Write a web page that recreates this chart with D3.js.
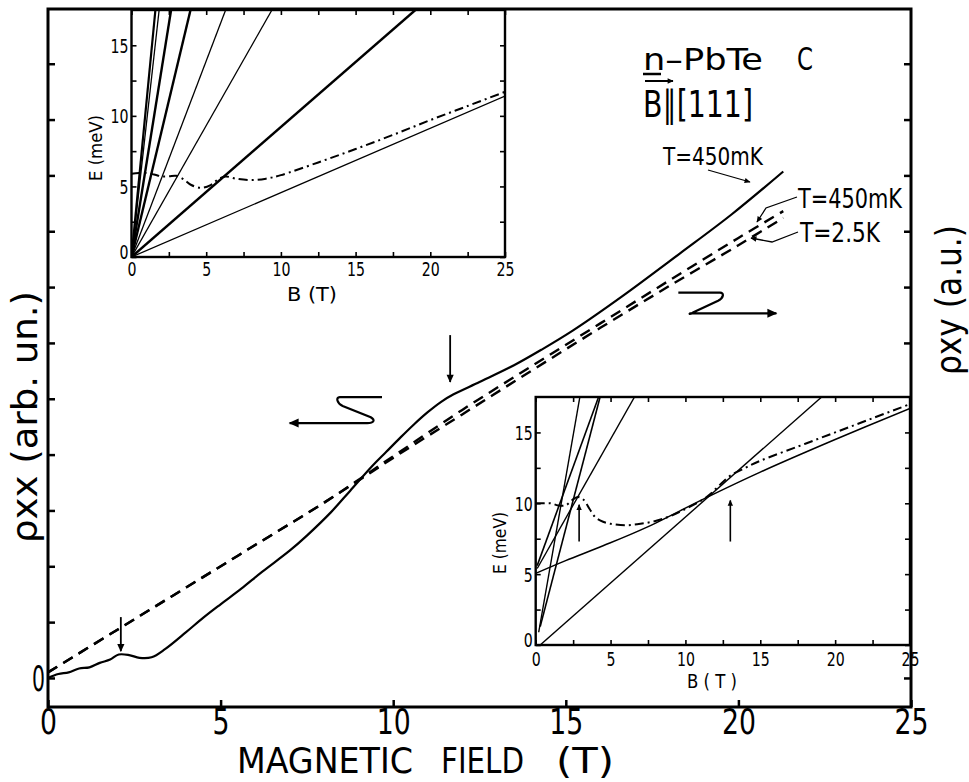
<!DOCTYPE html>
<html><head><meta charset="utf-8">
<script src="https://cdn.jsdelivr.net/npm/d3@7"></script>
<style>body{margin:0;background:#fff}svg{display:block}</style>
</head><body>
<script>
// ================= DATA =================
// Main panel: rho_xx (solid, T=450 mK)
const mainBxx   = [0,0.3,0.6,0.9,1.2,1.5,1.8,2.05,2.35,2.65,3.0,3.4,4.0,4.5,5.0,5.6,6.2,7.0,7.5,8.2,8.75,9.4,9.8,10.2,10.6,11.0,11.4,11.75,12.5,13.5,14.3,15.2,16.6,18.3,19.8,21.3];
const rhoXX450  = [0,0.07,0.1,0.17,0.19,0.27,0.33,0.42,0.41,0.36,0.37,0.52,0.82,1.08,1.32,1.6,1.9,2.28,2.55,2.97,3.35,3.8,4.05,4.3,4.54,4.76,4.95,5.08,5.3,5.6,5.88,6.22,6.82,7.6,8.3,9.07];
// Main panel: rho_xy (dashed) at 450 mK and 2.5 K
const mainBxy   = [0,2,4,6,8,10,12,14,16,18,20,21.3];
const rhoXY450  = [0.1,0.86,1.62,2.38,3.14,3.97,4.8,5.58,6.35,7.12,7.88,8.36];
const rhoXY25K  = [0.1,0.86,1.62,2.38,3.14,3.94,4.72,5.5,6.27,7.02,7.75,8.24];
const mainXTicks = [0,5,10,15,20,25];
const mainYTicks = [0,1,2,3,4,5,6,7,8,9,10,11];
// annotation arrows (data units of main panel)
const downArrowsB   = [2.11, 11.65];
const downArrowsTop = [1.09, 6.14];
const downArrowsTip = [0.48, 5.30];

// Inset 1 (top left): Landau levels E(B), lines [B0,E0,B1,E1]
const in1Lines = [[0,0,25,11.4],[0,0,19.0,17.5],[0,0,9.4,17.5],[0,0,6.3,17.5],[0,0,3.95,17.5],[0,0,2.65,17.5],[0,0,1.85,17.5],[0,0,1.6,17.5]];
const in1FermiB = [0,0.5,1,1.5,2,2.5,3,3.5,4,4.7,5.3,5.8,6.3,7,8,9,10,12.5,15,17.5,20,22.5,25];
const in1FermiE = [5.9,5.95,5.95,5.85,5.72,5.72,5.75,5.5,5.1,4.9,5.1,5.5,5.7,5.55,5.45,5.55,5.8,6.7,7.65,8.65,9.7,10.7,11.7];

// Inset 2 (bottom right)
const in2Lines = [[0.3,0,19.1,17.5],[0.2,0.9,2.95,17.5],[0.3,1.3,4.3,17.5],[0.1,5.6,4.2,17.5],[0.1,5.4,6.6,17.5]];
const in2LowB = [0,2,4.5,7.4,11.3,15,20,25];
const in2LowE = [5.05,5.95,7.0,8.3,10.35,12.2,14.5,16.7];
const in2FermiB = [0,0.5,1,1.5,2,2.4,2.8,3.2,3.6,4,4.5,5,6,7,8,9,10,11,11.6,12.3,13,14,15,17.5,20,22.5,25];
const in2FermiE = [10,10,10,9.85,9.85,10.2,10.45,10.25,9.6,9.0,8.7,8.55,8.45,8.55,8.75,9.1,9.6,10.15,10.6,11.3,11.95,12.5,13.0,14.0,15.0,16.0,17.0];
const in2ArrowB = [2.9, 13.0];
const in2ArrowFrom = [7.3, 7.3];
const in2ArrowTo = [9.9, 10.2];
const insetTicks = [0,5,10,15,20,25];
const insetYTicks = [0,5,10,15];

// ================= DRAW =================
const FONT = "'Liberation Sans Narrow','DejaVu Sans Condensed','Liberation Sans',sans-serif";
const W = 969, H = 782;
const svg = d3.select("body").append("svg").attr("width", W).attr("height", H);
svg.append("rect").attr("width", W).attr("height", H).attr("fill", "#fff");
const defs = svg.append("defs");
function marker(id, w, h) {
  defs.append("marker").attr("id", id).attr("viewBox", "0 0 10 10")
    .attr("refX", 9).attr("refY", 5).attr("markerUnits", "userSpaceOnUse")
    .attr("markerWidth", w).attr("markerHeight", h).attr("orient", "auto")
    .append("path").attr("d", "M0,0.5 L10,5 L0,9.5 Z").attr("fill", "#000");
}
marker("big", 20, 10);
marker("mid", 11, 8);
marker("small", 10, 6);

const x = d3.scaleLinear().domain([0, 25]).range([48, 911]);
const y = d3.scaleLinear().domain([-0.52, 11.98]).range([707, 9]);

function txt(g, s, px, py, size, len, anchor) {
  const t = g.append("text").attr("x", px).attr("y", py).text(s)
    .attr("font-family", FONT).attr("font-size", size).attr("fill", "#000")
    .attr("text-anchor", anchor || "start");
  if (len) t.attr("textLength", len).attr("lengthAdjust", "spacingAndGlyphs");
  return t;
}

// main axes
const gx = svg.append("g").attr("transform", `translate(0,${y.range()[0]})`)
  .call(d3.axisBottom(x).tickValues(mainXTicks).tickSize(-7).tickFormat(d => d));
gx.select(".domain").remove();
gx.selectAll("line").attr("stroke", "#000").attr("stroke-width", 2.5);
gx.selectAll("text").attr("dy", null).attr("y", 27).attr("font-family", FONT)
  .attr("font-size", 35).attr("fill", "#000")
  .each(function (d) { d3.select(this).attr("textLength", String(d).length * 17).attr("lengthAdjust", "spacingAndGlyphs"); });

const gyl = svg.append("g").attr("transform", `translate(${x.range()[0]},0)`)
  .call(d3.axisLeft(y).tickValues(mainYTicks).tickSize(-7).tickFormat(d => d === 0 ? "0" : ""));
gyl.select(".domain").remove();
gyl.selectAll("line").attr("stroke", "#000").attr("stroke-width", 2.5);
gyl.selectAll("text").attr("dy", null).attr("x", -3).attr("y", 13)
  .attr("font-family", FONT).attr("font-size", 36).attr("fill", "#000")
  .attr("textLength", 13).attr("lengthAdjust", "spacingAndGlyphs");

const gyr = svg.append("g").attr("transform", `translate(${x.range()[1]},0)`)
  .call(d3.axisRight(y).tickValues(mainYTicks).tickSize(-7).tickFormat(""));
gyr.select(".domain").remove();
gyr.selectAll("line").attr("stroke", "#000").attr("stroke-width", 2.5);

// curves
const lineGen = d3.line().x(d => x(d[0])).y(d => y(d[1])).curve(d3.curveCatmullRom.alpha(0.5));
svg.append("path").datum(mainBxy.map((b, i) => [b, rhoXY25K[i]])).attr("d", lineGen)
  .attr("fill", "none").attr("stroke", "#000").attr("stroke-width", 2.4).attr("stroke-dasharray", "11,7");
svg.append("path").datum(mainBxy.map((b, i) => [b, rhoXY450[i]])).attr("d", lineGen)
  .attr("fill", "none").attr("stroke", "#000").attr("stroke-width", 2.4).attr("stroke-dasharray", "11,7");
svg.append("path").datum(mainBxx.map((b, i) => [b, rhoXX450[i]])).attr("d", lineGen)
  .attr("fill", "none").attr("stroke", "#000").attr("stroke-width", 2.2);

// down arrows
downArrowsB.forEach((b, i) => {
  svg.append("line").attr("x1", x(b)).attr("x2", x(b)).attr("y1", y(downArrowsTop[i])).attr("y2", y(downArrowsTip[i]))
    .attr("stroke", "#000").attr("stroke-width", 1.8).attr("marker-end", "url(#mid)");
});

// S-shaped arrows (data units)
const sLeft = [[9.675, 5.03], [8.45, 5.03], [9.35, 4.67], [9.25, 4.565], [7.0, 4.565]];
const sRight = [[18.26, 6.90], [19.47, 6.90], [18.7, 6.55], [18.6, 6.53], [21.1, 6.53]];
function sPath(p) {
  const P = p.map(d => [x(d[0]), y(d[1])]);
  return `M${P[0][0]},${P[0][1]} L${P[1][0]},${P[1][1]} C${P[1][0] - 4},${P[1][1]} ${P[1][0] - 3},${P[1][1] + 6} ${P[1][0] + 3},${P[1][1] + 9}` +
    ` L${P[2][0]},${P[2][1]} C${P[2][0] + 5},${P[2][1] + 3} ${P[2][0] + 3},${P[3][1]} ${P[3][0]},${P[3][1]} L${P[4][0]},${P[4][1]}`;
}
function sPathR(p) {
  const P = p.map(d => [x(d[0]), y(d[1])]);
  return `M${P[0][0]},${P[0][1]} L${P[1][0]},${P[1][1]} C${P[1][0] + 4},${P[1][1]} ${P[1][0] + 4},${P[1][1] + 5} ${P[1][0] - 2},${P[1][1] + 8}` +
    ` L${P[2][0]},${P[2][1]} C${P[2][0] - 5},${P[2][1] + 3} ${P[2][0] - 4},${P[3][1]} ${P[3][0]},${P[3][1]} L${P[4][0]},${P[4][1]}`;
}
svg.append("path").attr("d", sPath(sLeft)).attr("fill", "none").attr("stroke", "#000").attr("stroke-width", 2.2).attr("marker-end", "url(#big)");
svg.append("path").attr("d", sPathR(sRight)).attr("fill", "none").attr("stroke", "#000").attr("stroke-width", 2.2).attr("marker-end", "url(#big)");

// ================= INSETS =================
function inset(cfg) {
  const g = svg.append("g");
  const xs = d3.scaleLinear().domain([0, 25]).range([cfg.x0, cfg.x1]);
  const ys = d3.scaleLinear().domain([0, 17.5]).range([cfg.y0, cfg.y1]);
  g.append("rect").attr("x", cfg.x0).attr("y", cfg.y1).attr("width", cfg.x1 - cfg.x0).attr("height", cfg.y0 - cfg.y1).attr("fill", "#fff");
  const cid = "clip" + cfg.id;
  defs.append("clipPath").attr("id", cid).append("rect").attr("x", cfg.x0).attr("y", cfg.y1).attr("width", cfg.x1 - cfg.x0).attr("height", cfg.y0 - cfg.y1);
  const pg = g.append("g").attr("clip-path", `url(#${cid})`);
  cfg.lines.forEach((l, i) => {
    pg.append("line").attr("x1", xs(l[0])).attr("y1", ys(l[1])).attr("x2", xs(l[2])).attr("y2", ys(l[3]))
      .attr("stroke", "#000").attr("stroke-width", cfg.weights[i]);
  });
  const lg = d3.line().x(d => xs(d[0])).y(d => ys(d[1])).curve(d3.curveCatmullRom.alpha(0.5));
  if (cfg.low) pg.append("path").datum(cfg.low).attr("d", lg).attr("fill", "none").attr("stroke", "#000").attr("stroke-width", 1.5);
  pg.append("path").datum(cfg.fermi).attr("d", lg).attr("fill", "none").attr("stroke", "#000")
    .attr("stroke-width", 2).attr("stroke-dasharray", "9,4,2,4");
  const tl = 5;
  const b = g.append("g").attr("transform", `translate(0,${cfg.y0})`).call(d3.axisBottom(xs).tickValues(d3.range(0, 25.01, 2.5)).tickSize(-tl).tickFormat(d => insetTicks.includes(d) ? d : ""));
  const t = g.append("g").attr("transform", `translate(0,${cfg.y1})`).call(d3.axisTop(xs).tickValues(d3.range(0, 25.01, 2.5)).tickSize(-tl).tickFormat(""));
  const l = g.append("g").attr("transform", `translate(${cfg.x0},0)`).call(d3.axisLeft(ys).tickValues(d3.range(0, 17.5, 2.5)).tickSize(-tl).tickFormat(d => insetYTicks.includes(d) ? d : ""));
  const r = g.append("g").attr("transform", `translate(${cfg.x1},0)`).call(d3.axisRight(ys).tickValues(d3.range(0, 17.5, 2.5)).tickSize(-tl).tickFormat(""));
  [b, t, l, r].forEach(a => { a.select(".domain").remove(); a.selectAll("line").attr("stroke", "#000").attr("stroke-width", 1.6); });
  b.selectAll("text").attr("dy", null).attr("y", cfg.xlabY).attr("font-family", FONT).attr("font-size", 19).attr("fill", "#000")
    .each(function (d) { d3.select(this).attr("textLength", String(d).length * 9).attr("lengthAdjust", "spacingAndGlyphs"); });
  l.selectAll("text").attr("dy", null).attr("x", -3).attr("y", d => d === 0 ? 1 : 7).attr("font-family", FONT).attr("font-size", 19).attr("fill", "#000")
    .each(function (d) { d3.select(this).attr("textLength", String(d).length * 9).attr("lengthAdjust", "spacingAndGlyphs"); });
  g.append("rect").attr("x", cfg.x0).attr("y", cfg.y1).attr("width", cfg.x1 - cfg.x0).attr("height", cfg.y0 - cfg.y1)
    .attr("fill", "none").attr("stroke", "#000").attr("stroke-width", 2.4);
  return { g, xs, ys };
}

const in1 = inset({ id: 1, x0: 131.5, x1: 505, y0: 257, y1: 10, xlabY: 19,
  lines: in1Lines, weights: [1.3, 2.4, 1.3, 1.3, 2.4, 2.4, 1.3, 2.2],
  fermi: in1FermiB.map((b, i) => [b, in1FermiE[i]]) });
txt(in1.g, "E (meV)", 0, 0, 17, 66, "middle").attr("transform", "translate(102,148) rotate(-90)");
txt(in1.g, "B (T)", 312, 301, 20, 50, "middle");

const in2 = inset({ id: 2, x0: 535.7, x1: 910, y0: 645, y1: 397, xlabY: 21,
  lines: in2Lines, weights: [1.4, 1.4, 1.6, 1.6, 1.4],
  low: in2LowB.map((b, i) => [b, in2LowE[i]]),
  fermi: in2FermiB.map((b, i) => [b, in2FermiE[i]]) });
txt(in2.g, "E (meV)", 0, 0, 17, 62, "middle").attr("transform", "translate(506,543) rotate(-90)");
txt(in2.g, "B ( T )", 712, 688, 20, 50, "middle");
in2ArrowB.forEach((b, i) => {
  in2.g.append("line").attr("x1", in2.xs(b)).attr("x2", in2.xs(b)).attr("y1", in2.ys(in2ArrowFrom[i])).attr("y2", in2.ys(in2ArrowTo[i]))
    .attr("stroke", "#000").attr("stroke-width", 1.6).attr("marker-end", "url(#small)");
});

// main frame on top
svg.append("rect").attr("x", x.range()[0]).attr("y", y.range()[1]).attr("width", x.range()[1] - x.range()[0])
  .attr("height", y.range()[0] - y.range()[1]).attr("fill", "none").attr("stroke", "#000").attr("stroke-width", 3);

// ================= TEXT =================
txt(svg, "MAGNETIC", 237, 773, 36, 176);
txt(svg, "FIELD", 441, 773, 36, 83);
txt(svg, "(T)", 556, 773, 36, 58);
txt(svg, "ρxx (arb. un.)", 0, 0, 36, 252, "middle").attr("transform", "translate(37,417) rotate(-90)");
txt(svg, "ρxy (a.u.)", 0, 0, 36, 150, "middle").attr("transform", "translate(961,300) rotate(-90)");

txt(svg, "n–PbTe", 643, 70, 31, 120);
txt(svg, "C", 797, 70, 32, 16);
svg.append("line").attr("x1", 643).attr("x2", 661).attr("y1", 74).attr("y2", 74).attr("stroke", "#000").attr("stroke-width", 2.5);
txt(svg, "B∥[111]", 643, 117, 37, 110);
svg.append("line").attr("x1", 645).attr("x2", 673).attr("y1", 81).attr("y2", 81).attr("stroke", "#000").attr("stroke-width", 2).attr("marker-end", "url(#small)");

txt(svg, "T=450mK", 663, 165, 25, 100);
txt(svg, "T=450mK", 798, 208, 27, 104);
txt(svg, "T=2.5K", 800, 242, 27, 80);
svg.append("path").attr("d", "M708,170 L750,182").attr("fill", "none").attr("stroke", "#000").attr("stroke-width", 1.3).attr("marker-end", "url(#small)");
svg.append("path").attr("d", "M797,197 L766,208 L757,222").attr("fill", "none").attr("stroke", "#000").attr("stroke-width", 1.3).attr("marker-end", "url(#small)");
svg.append("path").attr("d", "M798,232 L772,242 L751,238").attr("fill", "none").attr("stroke", "#000").attr("stroke-width", 1.3).attr("marker-end", "url(#small)");
</script>
</body></html>
